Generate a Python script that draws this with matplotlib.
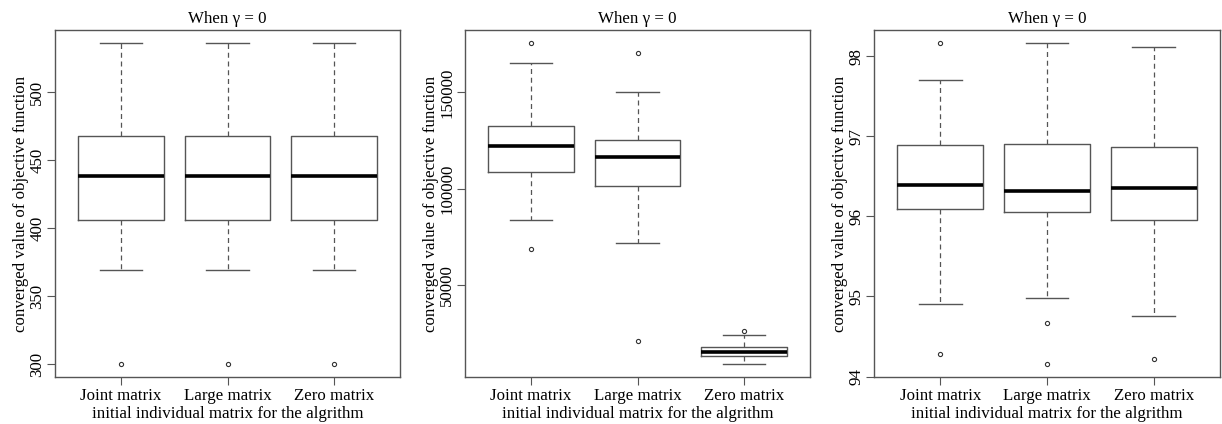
import matplotlib
matplotlib.use("Agg")
import matplotlib.pyplot as plt

plt.rcParams['font.family'] = ['Liberation Serif', 'DejaVu Serif']

CATEGORIES = ["Joint matrix", "Large matrix", "Zero matrix"]
TITLE = "When \u03b3 = 0"
XLABEL = "initial individual matrix for the algrithm"
YLABEL = "converged value of objective function"

# summary stats per panel: (whislo, q1, med, q3, whishi, outliers)
P1_LOW = [369.3, 369.3, 369.3]
P1_Q1 = [406.3, 406.3, 406.3]
P1_MED = [438.7, 438.7, 438.7]
P1_Q3 = [468.1, 468.1, 468.1]
P1_HIGH = [536.5, 536.5, 536.5]
P1_OUT = [[300.0], [300.0], [300.0]]
P1_TICKS = [300, 350, 400, 450, 500]

P2_LOW = [83700, 71900, 9100]
P2_Q1 = [108500, 101400, 13400]
P2_MED = [122200, 116600, 15600]
P2_Q3 = [132700, 125400, 17900]
P2_HIGH = [165300, 150000, 24400]
P2_OUT = [[175700, 68800], [170500, 21300], [26200]]
P2_TICKS = [50000, 100000, 150000]

P3_LOW = [94.90, 94.98, 94.76]
P3_Q1 = [96.09, 96.055, 95.955]
P3_MED = [96.388, 96.32, 96.35]
P3_Q3 = [96.894, 96.899, 96.87]
P3_HIGH = [97.70, 98.166, 98.12]
P3_OUT = [[98.166, 94.28], [94.67, 94.155], [94.22]]
P3_TICKS = [94, 95, 96, 97, 98]

panels = [
    (P1_LOW, P1_Q1, P1_MED, P1_Q3, P1_HIGH, P1_OUT, P1_TICKS),
    (P2_LOW, P2_Q1, P2_MED, P2_Q3, P2_HIGH, P2_OUT, P2_TICKS),
    (P3_LOW, P3_Q1, P3_MED, P3_Q3, P3_HIGH, P3_OUT, P3_TICKS),
]

# axes rectangles in figure pixels (left, right), shared top/bottom
W, H = 1222, 424
lefts = [55, 465, 874]
rights = [400, 810, 1220]
top, bottom = 30, 377

fig = plt.figure(figsize=(W / 100, H / 100), dpi=100)
edge = '#555555'
fs = 12.2

for i, (lo, q1, med, q3, hi, out, ticks) in enumerate(panels):
    ax = fig.add_axes([lefts[i] / W, (H - bottom) / H,
                       (rights[i] - lefts[i]) / W, (bottom - top) / H])
    stats = []
    for j, name in enumerate(CATEGORIES):
        stats.append(dict(whislo=lo[j], q1=q1[j], med=med[j], q3=q3[j],
                          whishi=hi[j], fliers=out[j], label=name))
    ax.bxp(stats, positions=[1, 2, 3], widths=0.8,
           boxprops=dict(color=edge, linewidth=1.0),
           medianprops=dict(color='black', linewidth=2.6, solid_capstyle='butt'),
           whiskerprops=dict(color=edge, linewidth=0.9, linestyle=(0, (4, 3))),
           capprops=dict(color=edge, linewidth=1.0),
           capwidths=0.4,
           flierprops=dict(marker='o', markersize=3, markerfacecolor='none',
                           markeredgecolor='#333333', markeredgewidth=0.8))
    # R-style 4% padding
    allv = lo + hi + [v for o in out for v in o]
    vmin, vmax = min(allv), max(allv)
    pad = (vmax - vmin) * 0.04
    ax.set_ylim(vmin - pad, vmax + pad)
    ax.set_xlim(0.38, 3.62)
    ax.set_yticks(ticks)
    ax.set_yticklabels([str(t) for t in ticks], rotation=90, va='center', fontsize=fs)
    ax.set_xticks([1, 2, 3])
    ax.set_xticklabels(CATEGORIES, fontsize=fs)
    ax.tick_params(axis='both', direction='out', length=6, width=0.8, color=edge, pad=2)
    ax.tick_params(axis='y', pad=1)
    for s in ax.spines.values():
        s.set_color(edge)
        s.set_linewidth(1.0)
    ax.set_title(TITLE, fontsize=fs, pad=5)
    ax.set_xlabel(XLABEL, fontsize=fs, labelpad=1)
    ax.set_ylabel(YLABEL, fontsize=fs, labelpad=0)

fig.savefig("out.png", dpi=100)
